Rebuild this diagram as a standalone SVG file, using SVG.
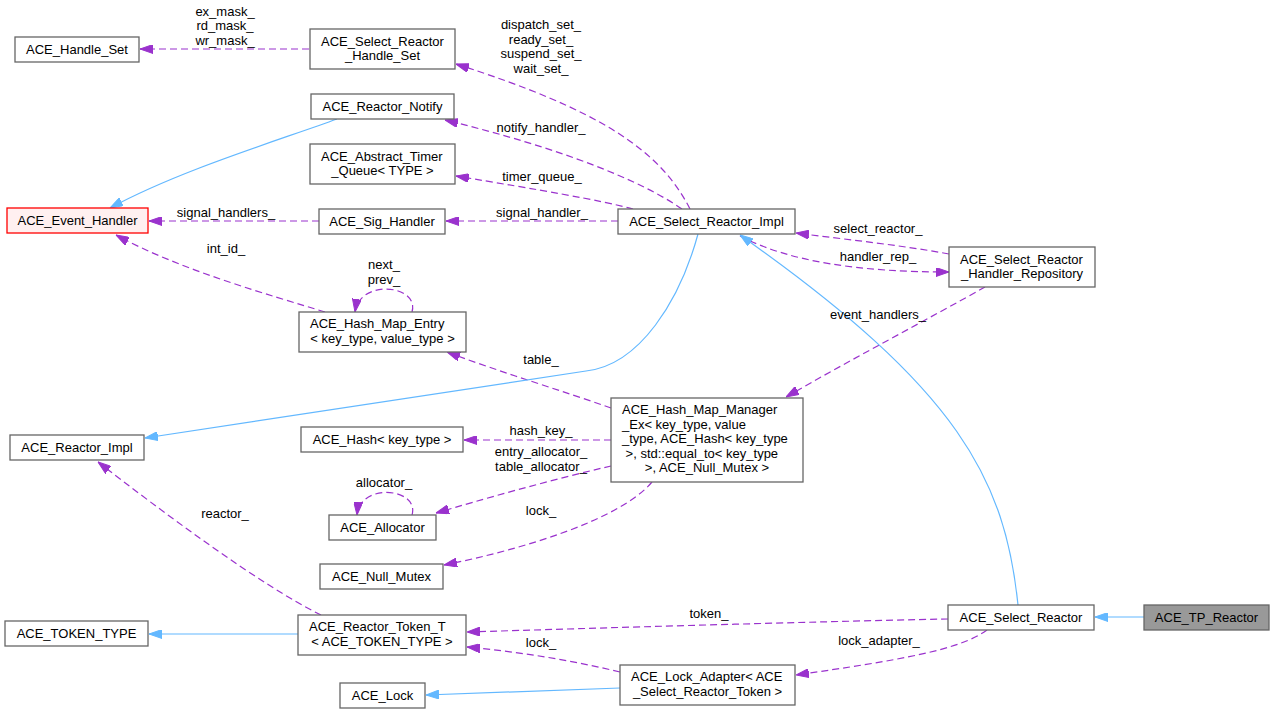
<svg xmlns="http://www.w3.org/2000/svg" width="1275" height="714" viewBox="0 0 1275 714">
<style>
text{font-family:"Liberation Sans",Arial,sans-serif;font-size:13px;fill:#000}
.n rect{fill:#fff;stroke:#666;stroke-width:1.3}
.s{text-anchor:start}
.m{text-anchor:middle}
.d{fill:none;stroke:#9a32cd;stroke-width:1.2;stroke-dasharray:7,4}
.b{fill:none;stroke:#63b8ff;stroke-width:1.2}
</style>
<defs>
<marker id="ap" markerUnits="userSpaceOnUse" viewBox="0 0 13 9" refX="13" refY="4.5" markerWidth="13" markerHeight="9" orient="auto"><path d="M0,0 L13,4.5 L0,9 z" fill="#9a32cd" stroke="#9a32cd"/></marker>
<marker id="ab" markerUnits="userSpaceOnUse" viewBox="0 0 13 9" refX="13" refY="4.5" markerWidth="13" markerHeight="9" orient="auto"><path d="M0,0 L13,4.5 L0,9 z" fill="#63b8ff" stroke="#63b8ff"/></marker>
</defs>
<rect width="1275" height="714" fill="#fff"/>
<g id="edges">
<path class="d" d="M309,49 L140,49" marker-end="url(#ap)"/>
<path class="d" d="M690,209 C660,150 600,110 456,64" marker-end="url(#ap)"/>
<path class="d" d="M682,209 C640,180 560,148 445,120" marker-end="url(#ap)"/>
<path class="d" d="M633,209 C600,200 540,190 456,176" marker-end="url(#ap)"/>
<path class="d" d="M618,221 L446,221" marker-end="url(#ap)"/>
<path class="d" d="M319,221 L149,221" marker-end="url(#ap)"/>
<path class="b" d="M337,119 C280,140 180,170 110,208" marker-end="url(#ab)"/>
<path class="d" d="M325,312 C270,295 180,270 116,235" marker-end="url(#ap)"/>
<path class="d" d="M412,312 C420,285 360,278 355,312" marker-end="url(#ap)"/>
<path class="d" d="M611,408 C560,390 500,372 447,352" marker-end="url(#ap)"/>
<path class="d" d="M611,440 L464,440" marker-end="url(#ap)"/>
<path class="d" d="M611,466 C550,480 480,500 436,513" marker-end="url(#ap)"/>
<path class="d" d="M412,515 C420,488 360,482 357,515" marker-end="url(#ap)"/>
<path class="d" d="M652,482 C620,520 520,550 444,565" marker-end="url(#ap)"/>
<path class="d" d="M985,287 C930,318 850,360 786,397" marker-end="url(#ap)"/>
<path class="d" d="M949,254 C900,245 850,240 796,233" marker-end="url(#ap)"/>
<path class="d" d="M740,236 C790,262 860,272 949,272" marker-end="url(#ap)"/>
<path class="b" d="M698,234 C680,300 640,365 586,371 L145,438" marker-end="url(#ab)"/>
<path class="b" d="M1018,605 C1005,480 960,390 740,235" marker-end="url(#ab)"/>
<path class="b" d="M1144,617 L1095,617" marker-end="url(#ab)"/>
<path class="d" d="M321,615 C260,585 160,510 98,462" marker-end="url(#ap)"/>
<path class="b" d="M298,634 L149,634" marker-end="url(#ab)"/>
<path class="d" d="M948,619 C800,622 600,628 467,632" marker-end="url(#ap)"/>
<path class="d" d="M620,672 C570,660 520,652 467,647" marker-end="url(#ap)"/>
<path class="d" d="M987,630 C960,650 900,660 796,675" marker-end="url(#ap)"/>
<path class="b" d="M620,688 L426,695" marker-end="url(#ab)"/>
<g class="m">
<text x="225" y="15.5">ex_mask_</text>
<text x="225" y="30">rd_mask_</text>
<text x="225" y="44.5">wr_mask_</text>
<text x="541" y="29">dispatch_set_</text>
<text x="541" y="43.5">ready_set_</text>
<text x="541" y="58">suspend_set_</text>
<text x="541" y="72.5">wait_set_</text>
<text x="541" y="132">notify_handler_</text>
<text x="542" y="181">timer_queue_</text>
<text x="542" y="216.5">signal_handler_</text>
<text x="226" y="216.5">signal_handlers_</text>
<text x="226" y="252.5">int_id_</text>
<text x="384" y="269">next_</text>
<text x="384" y="283.5">prev_</text>
<text x="541" y="364">table_</text>
<text x="541" y="435">hash_key_</text>
<text x="541" y="456">entry_allocator_</text>
<text x="541" y="470.5">table_allocator_</text>
<text x="384" y="487">allocator_</text>
<text x="541" y="515">lock_</text>
<text x="225" y="518">reactor_</text>
<text x="878" y="233">select_reactor_</text>
<text x="878" y="261">handler_rep_</text>
<text x="878" y="319">event_handlers_</text>
<text x="709" y="618">token_</text>
<text x="541" y="647">lock_</text>
<text x="879" y="645">lock_adapter_</text>
</g>
</g>
<g id="ACE_Handle_Set" class="n"><rect x="15" y="37" width="124" height="25"/><text class="m" x="77" y="54">ACE_Handle_Set</text></g>
<g id="ACE_Select_Reactor_Handle_Set" class="n"><rect x="310" y="29" width="145" height="40"/><text class="s" x="321" y="45.5">ACE_Select_Reactor</text><text class="m" x="382.5" y="60">_Handle_Set</text></g>
<g id="ACE_Reactor_Notify" class="n"><rect x="311" y="94" width="143" height="25"/><text class="m" x="382.5" y="111">ACE_Reactor_Notify</text></g>
<g id="ACE_Abstract_Timer_Queue" class="n"><rect x="310" y="144" width="145" height="40"/><text class="s" x="321" y="160.5">ACE_Abstract_Timer</text><text class="m" x="382.5" y="175">_Queue&lt; TYPE &gt;</text></g>
<g id="ACE_Event_Handler" class="n"><rect x="7" y="208" width="141" height="25" style="fill:#fff0f0;stroke:#ff0000"/><text class="m" x="77.5" y="225">ACE_Event_Handler</text></g>
<g id="ACE_Sig_Handler" class="n"><rect x="319" y="209" width="126" height="25"/><text class="m" x="382" y="226">ACE_Sig_Handler</text></g>
<g id="ACE_Select_Reactor_Impl" class="n"><rect x="618" y="209" width="177" height="25"/><text class="m" x="706.5" y="226">ACE_Select_Reactor_Impl</text></g>
<g id="ACE_Select_Reactor_Handler_Repository" class="n"><rect x="949" y="247" width="146" height="40"/><text class="s" x="960" y="263.5">ACE_Select_Reactor</text><text class="m" x="1022" y="278">_Handler_Repository</text></g>
<g id="ACE_Hash_Map_Entry" class="n"><rect x="299" y="312" width="167" height="40"/><text class="s" x="310" y="328">ACE_Hash_Map_Entry</text><text class="m" x="382.5" y="343">&lt; key_type, value_type &gt;</text></g>
<g id="ACE_Reactor_Impl" class="n"><rect x="10" y="435" width="134" height="25"/><text class="m" x="77" y="452">ACE_Reactor_Impl</text></g>
<g id="ACE_Hash" class="n"><rect x="301" y="427" width="162" height="25"/><text class="m" x="382" y="444">ACE_Hash&lt; key_type &gt;</text></g>
<g id="ACE_Hash_Map_Manager_Ex" class="n"><rect x="611" y="398" width="192" height="84"/><text class="s" x="622" y="414">ACE_Hash_Map_Manager</text><text class="s" x="622" y="428.5">_Ex&lt; key_type, value</text><text class="s" x="622" y="443">_type, ACE_Hash&lt; key_type</text><text class="s" x="625.6" y="457.5">&gt;, std::equal_to&lt; key_type</text><text class="m" x="707" y="472">&gt;, ACE_Null_Mutex &gt;</text></g>
<g id="ACE_Allocator" class="n"><rect x="329" y="515" width="107" height="25"/><text class="m" x="382.5" y="532">ACE_Allocator</text></g>
<g id="ACE_Null_Mutex" class="n"><rect x="320" y="564" width="123" height="25"/><text class="m" x="381.5" y="581">ACE_Null_Mutex</text></g>
<g id="ACE_TOKEN_TYPE" class="n"><rect x="5" y="621" width="143" height="25"/><text class="m" x="76.5" y="638">ACE_TOKEN_TYPE</text></g>
<g id="ACE_Reactor_Token_T" class="n"><rect x="298" y="615" width="168" height="40"/><text class="s" x="309" y="631">ACE_Reactor_Token_T</text><text class="m" x="382" y="646">&lt; ACE_TOKEN_TYPE &gt;</text></g>
<g id="ACE_Select_Reactor" class="n"><rect x="948" y="605" width="146" height="25"/><text class="m" x="1021" y="622">ACE_Select_Reactor</text></g>
<g id="ACE_TP_Reactor" class="n"><rect x="1144" y="605" width="125" height="25" style="fill:#999999;stroke:#666666"/><text class="m" x="1206.5" y="622">ACE_TP_Reactor</text></g>
<g id="ACE_Lock_Adapter" class="n"><rect x="620" y="665" width="175" height="40"/><text class="s" x="631" y="681">ACE_Lock_Adapter&lt; ACE</text><text class="m" x="707.5" y="696">_Select_Reactor_Token &gt;</text></g>
<g id="ACE_Lock" class="n"><rect x="340" y="683" width="85" height="25"/><text class="m" x="382.5" y="700">ACE_Lock</text></g>
</svg>
